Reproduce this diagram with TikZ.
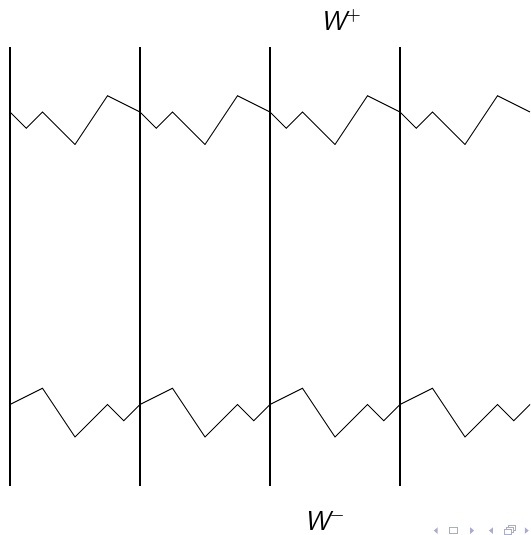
\documentclass[tikz,border=0pt]{standalone}
\usepackage{tikz}
\definecolor{navgray}{RGB}{170,170,215}
\tikzset{
  wall/.style={draw=black, line width=0.5pt},
  zigzag/.style={draw=black, line width=0.4pt, line join=miter},
  wlabel/.style={font=\fontsize{12}{14}\selectfont\sffamily\itshape, inner sep=0pt},
  navsym/.style={fill=navgray, draw=none}
}
\begin{document}
\begin{tikzpicture}[x=65pt/2.285,y=65pt/2.285]
\useasboundingbox (-0.154,-6.508) rectangle (8.0,1.723);
% vertical walls
\foreach \i in {0,2,4,6} {
  \draw[wall] (\i,1) -- (\i,-5.75);
}
% upper and lower broken lines
\foreach \i in {0,2,4,6} {
  \draw[zigzag] (\i,0) -- ++(0.25,-0.25) -- ++(0.25,0.25) -- ++(0.5,-0.5)
    -- ++(0.5,0.75) -- ++(0.5,-0.25);
  \draw[zigzag] (\i,-4.5) -- ++(0.5,0.25) -- ++(0.5,-0.75) -- ++(0.5,0.5)
    -- ++(0.25,-0.25) -- ++(0.25,0.25);
}
\node[wlabel] (wplus) at (5.1,1.41) {W$^{+}$};
\node[wlabel] (wminus) at (4.85,-6.28) {W$^{-}$};
% navigation symbols
\fill[navsym] (6.52,-6.44) -- ++(0.06,0.05) -- ++(0,-0.1) -- cycle;
\draw[navgray, line width=0.5pt] (6.76,-6.49) rectangle ++(0.12,0.1);
\fill[navsym] (7.14,-6.44) -- ++(-0.06,0.05) -- ++(0,-0.1) -- cycle;
\fill[navsym] (7.37,-6.44) -- ++(0.06,0.05) -- ++(0,-0.1) -- cycle;
\draw[navgray, line width=0.5pt] (7.61,-6.5) rectangle ++(0.11,0.08)
  (7.64,-6.42) -- ++(0,0.03) -- ++(0.11,0) -- ++(0,-0.08) -- ++(-0.03,0)
  (7.67,-6.39) -- ++(0,0.03) -- ++(0.11,0) -- ++(0,-0.08) -- ++(-0.03,0);
\fill[navsym] (7.98,-6.44) -- ++(-0.06,0.05) -- ++(0,-0.1) -- cycle;
\end{tikzpicture}
\end{document}
